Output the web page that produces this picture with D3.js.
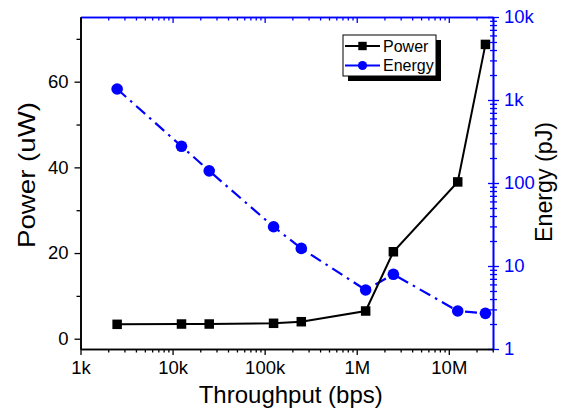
<!DOCTYPE html>
<html>
<head>
<meta charset="utf-8">
<script src="https://cdn.jsdelivr.net/npm/d3@7"></script>
<style>
  html, body { margin: 0; padding: 0; background: #fff; }
  svg { display: block; font-family: "Liberation Sans", Arial, sans-serif; }
</style>
</head>
<body>
<svg id="chart" width="566" height="409"></svg>
<script>
// Measured throughput (bps), power (uW) and energy per bit (pJ)
const throughput = [2.5e3, 1.25e4, 2.5e4, 1.25e5, 2.5e5, 1.25e6, 2.5e6, 1.25e7, 2.5e7];
const power = [3.36, 3.43, 3.43, 3.6, 3.97, 6.47, 20.3, 36.6, 68.7];
const energy = [1357, 277, 140, 29.7, 16.3, 5.14, 7.94, 2.87, 2.69];

const xTicks = [1e3, 1e4, 1e5, 1e6, 1e7];
const xTickLabels = ["1k", "10k", "100k", "1M", "10M"];
const powerTicks = [0, 20, 40, 60];
const powerMinorTicks = [10, 30, 50, 70];
const energyTicks = [1, 10, 100, 1000, 10000];
const energyTickLabels = ["1", "10", "100", "1k", "10k"];
const seriesNames = ["Power", "Energy"];

const BLUE = "#0000ff";
const plotL = 80.5, plotR = 493, plotT = 17, plotB = 349;

const svg = d3.select("#chart");

const x = d3.scaleLog().domain([1e3, 3.02e7]).range([plotL, plotR]);
const yP = d3.scaleLinear().domain([-2.4, 75.1]).range([plotB, plotT]);
const yE = d3.scaleLog().domain([1, 10000]).range([plotB, plotT]);

// minor ticks for log axes: 2..9 within each decade
function logMinors(scale) {
  const [a, b] = scale.domain();
  const out = [];
  for (let e = Math.floor(Math.log10(a)); e <= Math.ceil(Math.log10(b)); e++) {
    for (let m = 2; m <= 9; m++) {
      const v = m * Math.pow(10, e);
      if (v >= a && v <= b) out.push(v);
    }
  }
  return out;
}

function styleAxis(g, color) {
  g.selectAll("path.domain").attr("stroke", color).attr("stroke-width", 1.6);
  g.selectAll(".tick line").attr("stroke", color).attr("stroke-width", 1.3);
  g.selectAll(".tick text")
    .attr("fill", color)
    .style("font-family", '"Liberation Sans", Arial, sans-serif')
    .style("font-size", "18.5px");
}

// ---- bottom axis (black, outward ticks)
const gxMinor = svg.append("g").attr("transform", `translate(0,${plotB})`)
  .call(d3.axisBottom(x).tickValues(logMinors(x)).tickSize(3.5).tickSizeOuter(0).tickFormat(""));
styleAxis(gxMinor, "#000");
const gx = svg.append("g").attr("transform", `translate(0,${plotB})`)
  .call(d3.axisBottom(x).tickValues(xTicks).tickSize(6).tickSizeOuter(0)
    .tickFormat((d, i) => xTickLabels[i]).tickPadding(6));
styleAxis(gx, "#000");

// ---- top axis (blue, ticks pointing into the plot)
const gtMinor = svg.append("g").attr("transform", `translate(0,${plotT})`)
  .call(d3.axisTop(x).tickValues(logMinors(x)).tickSize(-3.5).tickSizeOuter(0).tickFormat(""));
styleAxis(gtMinor, BLUE);
const gt = svg.append("g").attr("transform", `translate(0,${plotT})`)
  .call(d3.axisTop(x).tickValues(xTicks).tickSize(-6).tickSizeOuter(0).tickFormat(""));
styleAxis(gt, BLUE);

// ---- left axis (power, black)
const gyMinor = svg.append("g").attr("transform", `translate(${plotL},0)`)
  .call(d3.axisLeft(yP).tickValues(powerMinorTicks).tickSize(4).tickSizeOuter(0).tickFormat(""));
styleAxis(gyMinor, "#000");
const gy = svg.append("g").attr("transform", `translate(${plotL},0)`)
  .call(d3.axisLeft(yP).tickValues(powerTicks).tickSize(6).tickSizeOuter(0).tickPadding(6));
styleAxis(gy, "#000");

// ---- right axis (energy, blue, ticks crossing the line)
const geMinor = svg.append("g").attr("transform", `translate(${plotR},0)`)
  .call(d3.axisRight(yE).tickValues(logMinors(yE)).tickSize(4).tickSizeOuter(0).tickFormat(""));
styleAxis(geMinor, BLUE);
geMinor.selectAll(".tick line").attr("x1", -3);
const ge = svg.append("g").attr("transform", `translate(${plotR},0)`)
  .call(d3.axisRight(yE).tickValues(energyTicks).tickSize(6).tickSizeOuter(0)
    .tickFormat((d, i) => energyTickLabels[i]).tickPadding(5));
styleAxis(ge, BLUE);
ge.selectAll(".tick line").attr("x1", -5);

// bottom and left lines drawn last among axes so their corners stay black
gx.raise(); gy.raise();

// ---- axis titles
svg.append("text")
  .attr("x", (plotL + plotR) / 2 + 4).attr("y", 403)
  .attr("text-anchor", "middle")
  .style("font-size", "24px")
  .text("Throughput (bps)");

svg.append("text")
  .attr("transform", "translate(35,175) rotate(-90)")
  .attr("text-anchor", "middle")
  .attr("textLength", 146).attr("lengthAdjust", "spacingAndGlyphs")
  .style("font-size", "24px")
  .text("Power (uW)");

svg.append("text")
  .attr("transform", "translate(552,182) rotate(-90)")
  .attr("text-anchor", "middle")
  .attr("textLength", 120).attr("lengthAdjust", "spacingAndGlyphs")
  .style("font-size", "24px")
  .text("Energy (pJ)");

// ---- series
const pts = throughput.map((t, i) => ({ t, p: power[i], e: energy[i] }));

svg.append("path").datum(pts)
  .attr("fill", "none").attr("stroke", BLUE).attr("stroke-width", 2.2)
  .attr("stroke-dasharray", "12,5.5,2.5,5.5")
  .attr("d", d3.line().x(d => x(d.t)).y(d => yE(d.e)));
svg.append("g").selectAll("circle").data(pts).join("circle")
  .attr("cx", d => x(d.t)).attr("cy", d => yE(d.e)).attr("r", 5.8)
  .attr("fill", BLUE);

svg.append("path").datum(pts)
  .attr("fill", "none").attr("stroke", "#000").attr("stroke-width", 2)
  .attr("d", d3.line().x(d => x(d.t)).y(d => yP(d.p)));
const sq = 9.5;
svg.append("g").selectAll("rect").data(pts).join("rect")
  .attr("x", d => x(d.t) - sq / 2).attr("y", d => yP(d.p) - sq / 2)
  .attr("width", sq).attr("height", sq).attr("fill", "#000");

// ---- legend with drop shadow
const lg = svg.append("g");
const lx = 343, ly = 35, lw = 93, lh = 41;
lg.append("rect").attr("x", lx + 5).attr("y", ly + 5).attr("width", lw).attr("height", lh).attr("fill", "#000");
lg.append("rect").attr("x", lx).attr("y", ly).attr("width", lw).attr("height", lh)
  .attr("fill", "#fff").attr("stroke", "#000").attr("stroke-width", 1);
const rows = [
  { name: seriesNames[0], color: "#000", shape: "square", y: ly + 11 },
  { name: seriesNames[1], color: BLUE, shape: "circle", y: ly + 30.5 }
];
rows.forEach(r => {
  lg.append("line").attr("x1", lx + 2).attr("x2", lx + 37).attr("y1", r.y).attr("y2", r.y)
    .attr("stroke", r.color).attr("stroke-width", 2);
  if (r.shape === "square") {
    lg.append("rect").attr("x", lx + 19.5 - 4.2).attr("y", r.y - 4.2).attr("width", 8.4).attr("height", 8.4).attr("fill", r.color);
  } else {
    lg.append("circle").attr("cx", lx + 19.5).attr("cy", r.y).attr("r", 4.6).attr("fill", r.color);
  }
  lg.append("text").attr("x", lx + 40).attr("y", r.y).attr("dy", "0.36em")
    .style("font-size", "16px").text(r.name);
});
</script>
</body>
</html>
